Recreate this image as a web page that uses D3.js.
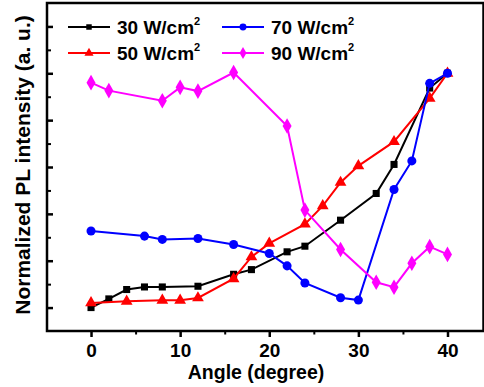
<!DOCTYPE html>
<html>
<head>
<meta charset="utf-8">
<script src="https://cdn.jsdelivr.net/npm/d3@7"></script>
<style>
  body { margin: 0; background: #fff; }
  text { font-family: "Liberation Sans", Arial, sans-serif; font-weight: bold; }
</style>
</head>
<body>
<div id="graph1"></div>
<script>
// data (normalized PL intensity vs angle)
const angles30 = [0, 2, 4, 6, 8, 12, 16, 18, 22, 24, 28, 32, 34, 38, 40];
const pl30 = [0, 0.037, 0.077, 0.088, 0.088, 0.091, 0.142, 0.162, 0.238, 0.262, 0.373, 0.487, 0.611, 0.937, 1.0];

const angles50 = [0, 4, 8, 10, 12, 16, 18, 20, 24, 26, 28, 30, 34, 38, 40];
const pl50 = [0.02, 0.027, 0.031, 0.031, 0.041, 0.123, 0.216, 0.274, 0.356, 0.434, 0.534, 0.605, 0.708, 0.893, 1.0];

const angles70 = [0, 6, 8, 12, 16, 20, 22, 24, 28, 30, 34, 36, 38, 40];
const pl70 = [0.327, 0.305, 0.291, 0.295, 0.269, 0.231, 0.178, 0.105, 0.042, 0.032, 0.504, 0.626, 0.957, 1.0];

const angles90 = [0, 2, 8, 10, 12, 16, 22, 24, 28, 32, 34, 36, 38, 40];
const pl90 = [0.96, 0.926, 0.883, 0.94, 0.924, 1.003, 0.775, 0.416, 0.248, 0.108, 0.087, 0.189, 0.26, 0.227];

const seriesNames = ["30 W/cm", "50 W/cm", "70 W/cm", "90 W/cm"];
const xTicks = [0, 10, 20, 30, 40];
const xMinorTicks = [5, 15, 25, 35];

const width = 484, height = 387;
const plotLeft = 47, plotRight = 483.5, plotTop = 3, plotBottom = 331;

let svg = d3.select("#graph1")
    .append("svg")
    .attr("width", width)
    .attr("height", height);

var x = d3.scaleLinear().domain([-4.94, 44.04]).range([plotLeft, plotRight]);
var y = d3.scaleLinear().domain([-0.1, 1.3]).range([plotBottom, plotTop]);

// frame
svg.append("rect")
    .attr("x", plotLeft).attr("y", plotTop)
    .attr("width", plotRight - plotLeft).attr("height", plotBottom - plotTop)
    .attr("fill", "none").attr("stroke", "#000").attr("stroke-width", 2.5);

// x axis ticks (outside)
svg.append("g")
    .attr("transform", "translate(0," + plotBottom + ")")
    .call(d3.axisBottom(x).tickValues(xTicks).tickSize(6).tickPadding(7).tickFormat(d3.format("d")))
    .call(g => g.select(".domain").remove())
    .call(g => g.selectAll("line").attr("stroke-width", 2.5))
    .call(g => g.selectAll("text").attr("font-size", 19).attr("font-family", null).attr("fill", "#000"));
svg.append("g")
    .attr("transform", "translate(0," + plotBottom + ")")
    .call(d3.axisBottom(x).tickValues(xMinorTicks).tickSize(3.5).tickFormat(""))
    .call(g => g.select(".domain").remove())
    .call(g => g.selectAll("line").attr("stroke-width", 2));

// y axis ticks (inside, no labels)
svg.append("g")
    .attr("transform", "translate(" + plotLeft + ",0)")
    .call(d3.axisRight(y).tickValues([0, 0.2, 0.4, 0.6, 0.8, 1.0, 1.2]).tickSize(6).tickFormat(""))
    .call(g => g.select(".domain").remove())
    .call(g => g.selectAll("line").attr("stroke-width", 2.5));
svg.append("g")
    .attr("transform", "translate(" + plotLeft + ",0)")
    .call(d3.axisRight(y).tickValues([0.1, 0.3, 0.5, 0.7, 0.9, 1.1]).tickSize(4).tickFormat(""))
    .call(g => g.select(".domain").remove())
    .call(g => g.selectAll("line").attr("stroke-width", 2));

// axis titles
svg.append("text")
    .attr("x", 256).attr("y", 379)
    .attr("text-anchor", "middle")
    .attr("font-size", 19.5)
    .text("Angle (degree)");

svg.append("text")
    .attr("transform", "translate(30,165) rotate(-90)")
    .attr("text-anchor", "middle")
    .attr("font-size", 21)
    .text("Normalized PL intensity (a. u.)");

const series = [
  {name: seriesNames[0], xs: angles30, ys: pl30, color: "#000000", shape: d3.symbolSquare, size: 50},
  {name: seriesNames[1], xs: angles50, ys: pl50, color: "#ff0000", shape: d3.symbolTriangle, size: 60},
  {name: seriesNames[2], xs: angles70, ys: pl70, color: "#0000ff", shape: d3.symbolCircle, size: 64},
  {name: seriesNames[3], xs: angles90, ys: pl90, color: "#ff00ff", shape: d3.symbolDiamond, size: 70}
];

var line = d3.line()
    .x(d => x(d[0]))
    .y(d => y(d[1]));

series.forEach(function (s) {
    var pts = s.xs.map((a, i) => [a, s.ys[i]]);
    svg.append("path")
      .datum(pts)
      .attr("fill", "none")
      .attr("stroke", s.color)
      .attr("stroke-width", 2)
      .attr("d", line);
    svg.append("g")
      .selectAll("path")
      .data(pts)
      .enter()
      .append("path")
        .attr("transform", d => "translate(" + x(d[0]) + "," + y(d[1]) + ")")
        .attr("d", d3.symbol().type(s.shape).size(s.size))
        .attr("fill", s.color);
});

// legend
const legendPos = [[68, 27], [68, 53], [222, 27], [222, 53]];
series.forEach(function (s, i) {
    var lx = legendPos[i][0], ly = legendPos[i][1];
    var g = svg.append("g").attr("transform", "translate(" + lx + "," + ly + ")");
    g.append("line")
      .attr("x1", 0).attr("x2", 42).attr("y1", 0).attr("y2", 0)
      .attr("stroke", s.color).attr("stroke-width", 2);
    g.append("path")
      .attr("transform", "translate(21,0)")
      .attr("d", d3.symbol().type(s.shape).size(s.size * 0.6))
      .attr("fill", s.color);
    var t = g.append("text")
      .attr("x", 49).attr("y", 7)
      .attr("font-size", 19)
      .text(s.name);
    t.append("tspan")
      .attr("dy", -9)
      .attr("font-size", 11)
      .text("2");
});
</script>
</body>
</html>
